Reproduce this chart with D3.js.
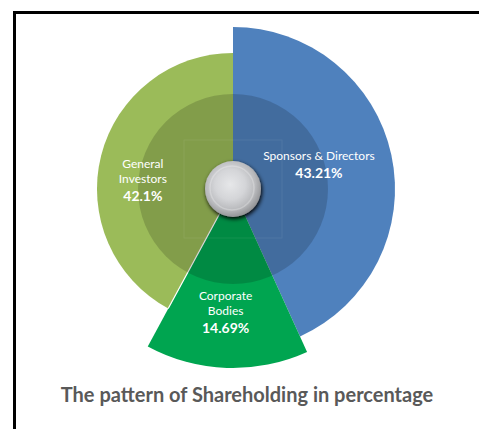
<!DOCTYPE html>
<html>
<head>
<meta charset="utf-8">
<script src="https://cdn.jsdelivr.net/npm/d3@7"></script>
<style>
  body { margin: 0; background: #fff; }
  svg { display: block; font-family: Lato, "Open Sans", sans-serif; }
</style>
</head>
<body>
<svg width="479" height="429"></svg>
<script>
// shareholding data
var names = [["Sponsors & Directors"], ["Corporate", "Bodies"], ["General", "Investors"]];
var shares = [43.21, 14.69, 42.1];
var valueLabels = ["43.21%", "14.69%", "42.1%"];
var colors = ["#4F81BD", "#00A550", "#9BBB59"];
var titleText = "The pattern of Shareholding in percentage";

var svg = d3.select("svg"),
    cx = 233, cy = 189;

// frame (only top + left edges show inside the window)
svg.append("rect")
  .attr("x", 14.5).attr("y", 12.5)
  .attr("width", 600).attr("height", 600)
  .attr("fill", "none").attr("stroke", "#000").attr("stroke-width", 3);

var defs = svg.append("defs");
var grad = defs.append("radialGradient").attr("id", "ball")
  .attr("cx", "45%").attr("cy", "42%").attr("r", "60%");
grad.append("stop").attr("offset", "0%").attr("stop-color", "#e6e7e9");
grad.append("stop").attr("offset", "45%").attr("stop-color", "#d4d5d8");
grad.append("stop").attr("offset", "75%").attr("stop-color", "#b9babd");
grad.append("stop").attr("offset", "100%").attr("stop-color", "#8e8f92");
var sh = defs.append("filter").attr("id", "shadow")
  .attr("x", "-50%").attr("y", "-50%").attr("width", "200%").attr("height", "200%");
sh.append("feGaussianBlur").attr("in", "SourceAlpha").attr("stdDeviation", 2);
sh.append("feOffset").attr("dx", 1).attr("dy", 2).attr("result", "b");
var fm = sh.append("feMerge");
fm.append("feMergeNode").attr("in", "b");
fm.append("feMergeNode").attr("in", "SourceGraphic");

var outerR = [162, 179, 136];

var pie = d3.pie().sort(null).value(function(d) { return d; });
var arcs = pie(shares);

var g = svg.append("g").attr("transform", "translate(" + cx + "," + cy + ")");

g.selectAll("path.slice")
  .data(arcs)
  .enter().append("path")
  .attr("class", "slice")
  .attr("fill", function(d, i) { return colors[i]; })
  .attr("d", function(d, i) { return d3.arc().innerRadius(0).outerRadius(outerR[i])(d); });

// white seam between Corporate Bodies and General Investors
var seamAngle = arcs[1].endAngle;
g.append("line")
  .attr("x1", 0).attr("y1", 0)
  .attr("x2", outerR[2] * Math.sin(seamAngle))
  .attr("y2", -outerR[2] * Math.cos(seamAngle))
  .attr("stroke", "#fff").attr("stroke-width", 1.2);

// darker inner ring
g.append("circle").attr("r", 95).attr("fill", "#000").attr("fill-opacity", 0.16);
g.append("rect").attr("x", -49).attr("y", -49).attr("width", 98).attr("height", 98)
  .attr("fill", "none").attr("stroke", "#fff").attr("stroke-opacity", 0.07);

// centre ball
g.append("circle").attr("r", 28).attr("fill", "url(#ball)").attr("filter", "url(#shadow)");
g.append("circle").attr("r", 22).attr("cx", -1).attr("cy", -1)
  .attr("fill", "none").attr("stroke", "#fff").attr("stroke-opacity", 0.25).attr("stroke-width", 1.5);

// labels
var labelR = [90, 126, 93];
var nudge = [[-2, -5], [-3, -2], [0, 14]];
arcs.forEach(function(d, i) {
  var c = d3.arc().innerRadius(labelR[i]).outerRadius(labelR[i]).centroid(d);
  var lines = names[i];
  var blockH = 15 * (lines.length - 1) + 18;
  var x = c[0] + nudge[i][0];
  var y0 = c[1] + nudge[i][1] - blockH / 2 + 4;
  var t = g.append("g").attr("fill", "#fff").attr("text-anchor", "middle");
  lines.forEach(function(s, j) {
    t.append("text").attr("x", x).attr("y", y0 + 15 * j)
      .attr("font-size", 12).text(s);
  });
  t.append("text").attr("x", x).attr("y", y0 + blockH)
    .attr("font-size", 14).attr("font-weight", "bold").text(valueLabels[i]);
});

svg.append("text")
  .attr("x", 247).attr("y", 402)
  .attr("text-anchor", "middle")
  .attr("font-size", 20).attr("font-weight", "bold")
  .attr("fill", "#595959")
  .text(titleText);
</script>
</body>
</html>
